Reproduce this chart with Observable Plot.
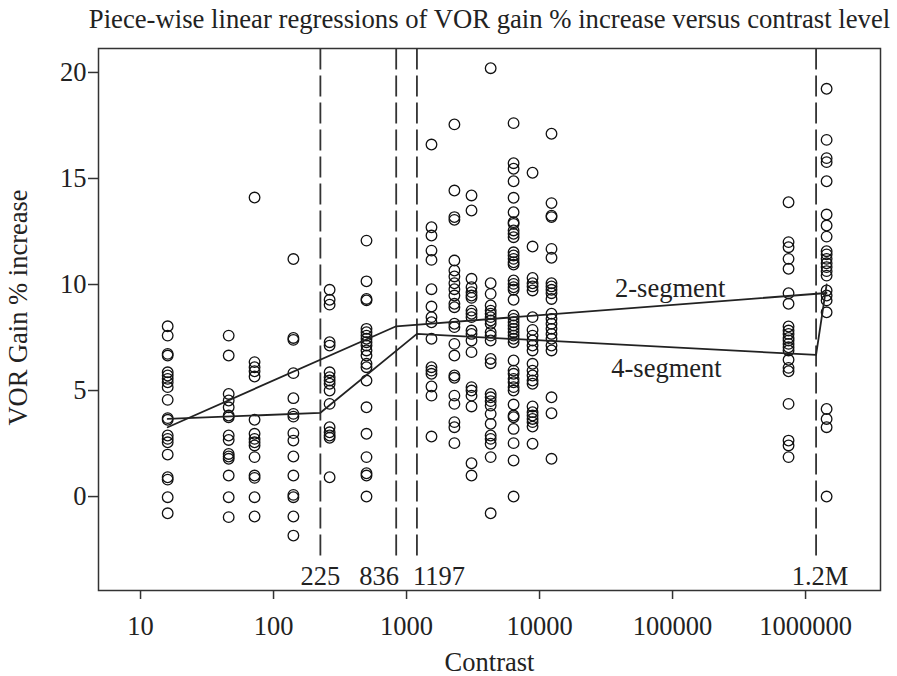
<!DOCTYPE html>
<html>
<head>
<meta charset="utf-8">
<script src="https://cdn.jsdelivr.net/npm/d3@7"></script>
<script src="https://cdn.jsdelivr.net/npm/@observablehq/plot@0.6"></script>
<style>
  html, body { margin: 0; padding: 0; background: #fff; }
  #title { height: 38px; width: 897px; box-sizing: border-box; padding-left: 82px; text-align: center;
           font-family: "Liberation Serif", "DejaVu Serif", serif; font-size: 26.7px; line-height: 38px; color: #222; white-space: nowrap; overflow: visible; }
  #chart svg { display: block; }
</style>
</head>
<body>
<div id="title">Piece-wise linear regressions of VOR gain % increase versus contrast level</div>
<div id="chart"></div>
<script>
// ---- data ----
const contrastLevels = [16, 46, 72, 141, 264, 500, 1540, 2290, 3080, 4290, 6380, 8860, 12300, 745000, 1440000];
const gainValues = [
  [8.03, 7.59, 6.73, 6.65, 5.86, 5.71, 5.55, 5.39, 5.16, 4.56, 3.70, 3.62, 2.88, 2.72, 2.56, 1.98, 0.91, 0.80, -0.03, -0.79],
  [7.59, 6.65, 4.84, 4.53, 4.21, 3.82, 3.74, 2.88, 2.67, 2.01, 1.89, 1.78, 0.99, -0.03, -0.97],
  [14.1, 6.34, 6.10, 5.91, 5.66, 3.62, 2.96, 2.72, 2.56, 2.41, 1.86, 0.99, 0.88, -0.03, -0.94],
  [11.2, 7.48, 7.39, 5.82, 4.64, 3.90, 3.77, 2.99, 2.64, 1.89, 0.99, 0.08, -0.03, -0.94, -1.84],
  [9.75, 9.28, 9.05, 7.28, 7.12, 5.86, 5.63, 5.47, 5.32, 5.00, 4.37, 3.27, 3.03, 2.88, 2.77, 0.91],
  [12.07, 10.15, 9.32, 9.25, 7.91, 7.75, 7.59, 7.44, 7.28, 7.12, 6.89, 6.65, 6.26, 6.10, 5.47, 4.21, 2.96, 1.86, 1.10, 0.99, 0.00],
  [16.6, 12.70, 12.31, 11.60, 11.16, 9.78, 8.96, 8.46, 8.22, 7.44, 6.10, 5.94, 5.79, 5.19, 4.76, 2.83],
  [17.55, 14.43, 13.18, 13.05, 11.13, 10.66, 10.38, 10.06, 9.78, 9.48, 9.09, 8.93, 8.15, 7.99, 7.20, 6.65, 5.71, 5.60, 4.76, 4.37, 3.51, 3.27, 2.52],
  [14.2, 13.49, 10.27, 9.87, 9.64, 9.48, 9.37, 8.77, 8.62, 8.46, 7.83, 7.67, 7.36, 6.81, 5.16, 5.00, 4.76, 4.25, 1.57, 0.99],
  [20.2, 10.06, 9.56, 9.01, 8.77, 8.62, 8.46, 8.30, 8.15, 7.75, 7.59, 7.36, 6.49, 6.29, 4.84, 4.68, 4.50, 4.29, 3.90, 3.43, 2.88, 2.72, 2.49, 1.86, -0.79],
  [17.61, 15.72, 15.46, 14.87, 14.09, 13.41, 12.94, 12.86, 12.55, 12.39, 12.23, 11.52, 11.37, 11.21, 11.05, 10.94, 10.19, 10.03, 9.87, 9.75, 9.28, 8.54, 8.38, 8.22, 8.07, 7.91, 7.75, 7.59, 7.44, 7.28, 6.42, 5.94, 5.79, 5.55, 5.39, 5.16, 5.00, 4.34, 3.82, 3.74, 3.19, 2.52, 1.70, 0.00],
  [15.27, 11.79, 10.31, 10.06, 9.91, 9.72, 8.46, 7.86, 7.59, 7.36, 7.12, 6.89, 6.26, 5.94, 5.71, 5.47, 5.32, 4.25, 3.98, 3.82, 3.66, 3.51, 3.30, 2.49],
  [17.11, 13.84, 13.25, 13.18, 11.68, 11.26, 10.06, 9.91, 9.75, 9.59, 9.32, 8.62, 8.38, 8.15, 7.91, 7.67, 7.44, 7.12, 6.89, 4.68, 3.93, 1.78],
  [13.88, 12.00, 11.76, 11.21, 10.74, 9.59, 9.09, 8.02, 7.83, 7.67, 7.48, 7.36, 7.20, 7.04, 6.89, 6.45, 6.07, 5.91, 4.37, 2.64, 2.41, 1.86],
  [19.23, 16.82, 15.96, 15.77, 14.87, 13.30, 12.78, 12.26, 11.57, 11.42, 11.21, 11.00, 10.82, 10.63, 10.42, 9.72, 9.48, 9.25, 8.69, 4.13, 3.66, 3.27, 0.00]
];
const twoSegX = [16, 836, 1440000];
const twoSegY = [3.27, 8.03, 9.6];
const fourSegX = [16, 225, 1197, 1200000, 1440000];
const fourSegY = [3.66, 3.95, 7.67, 6.68, 10.0];
const breakpoints = [225, 836, 1197, 1200000];
const breakLabels = ["225", "836", "1197", "1.2M"];
const xTicks = [10, 100, 1000, 10000, 100000, 1000000];
const yTicks = [0, 5, 10, 15, 20];
const segmentNames = ["2-segment", "4-segment"];
const segmentLabelX = [96000, 90000];
const segmentLabelY = [9.81, 6.04];

// ---- build tables ----
const points = contrastLevels.flatMap((c, i) => gainValues[i].map(v => ({contrast: c, gain: v})));
const twoSeg = twoSegX.map((x, i) => ({x, y: twoSegY[i]}));
const fourSeg = fourSegX.map((x, i) => ({x, y: fourSegY[i]}));
const breaks = breakpoints.map((x, i) => ({x, label: breakLabels[i]}));
const segLabels = segmentNames.map((t, i) => ({t, x: segmentLabelX[i], y: segmentLabelY[i]}));

const font = "Liberation Serif, DejaVu Serif, serif";
const ink = "#222";
const fs = 26.5;
const breakDx = [0, -17, 22, 4];

const chart = Plot.plot({
  width: 897,
  height: 638,
  marginLeft: 98,
  marginRight: 17,
  marginTop: 10,
  marginBottom: 86,
  style: {fontFamily: font, color: ink, background: "#fff"},
  x: {type: "log", domain: [4.83, 3.66e6]},
  y: {domain: [-4.43, 21.13]},
  marks: [
    Plot.frame({stroke: "#333", strokeWidth: 1.5}),
    Plot.axisX({ticks: xTicks, tickFormat: d => String(d), tickSize: 9, tickPadding: 17, fontSize: fs,
      stroke: "#333", strokeWidth: 1.5, label: "Contrast", labelAnchor: "center", labelArrow: "none", labelOffset: 80}),
    Plot.axisY({ticks: yTicks, tickSize: 10, tickPadding: 2, fontSize: fs, stroke: "#333", strokeWidth: 1.5,
      label: "VOR Gain % increase", labelAnchor: "center", labelArrow: "none", labelOffset: 90}),
    Plot.ruleX(breaks, {x: "x", y1: -2.8, y2: 21.13, stroke: "#333", strokeWidth: 1.8, strokeDasharray: "21,6"}),
    ...breaks.map((b, i) => Plot.text([b], {x: "x", y: -3.75, text: "label", fontSize: fs, fill: ink, dx: breakDx[i]})),
    Plot.dot(points, {x: "contrast", y: "gain", r: 5.3, stroke: "#111", strokeWidth: 1.3, fill: "none"}),
    Plot.line(twoSeg, {x: "x", y: "y", stroke: "#222", strokeWidth: 1.8}),
    Plot.line(fourSeg, {x: "x", y: "y", stroke: "#222", strokeWidth: 1.8}),
    Plot.text(segLabels, {x: "x", y: "y", text: "t", fontSize: fs, fill: ink})
  ]
});
document.getElementById("chart").appendChild(chart);
chart.querySelectorAll("g[aria-label$='label'] text").forEach(t => t.setAttribute("font-size", fs));
const yLab = chart.querySelector("g[aria-label='y-axis label']");
if (yLab) {
  const tr = yLab.getAttribute("transform") || "";
  yLab.setAttribute("transform", "translate(0,-12) " + tr);
}
</script>
</body>
</html>
